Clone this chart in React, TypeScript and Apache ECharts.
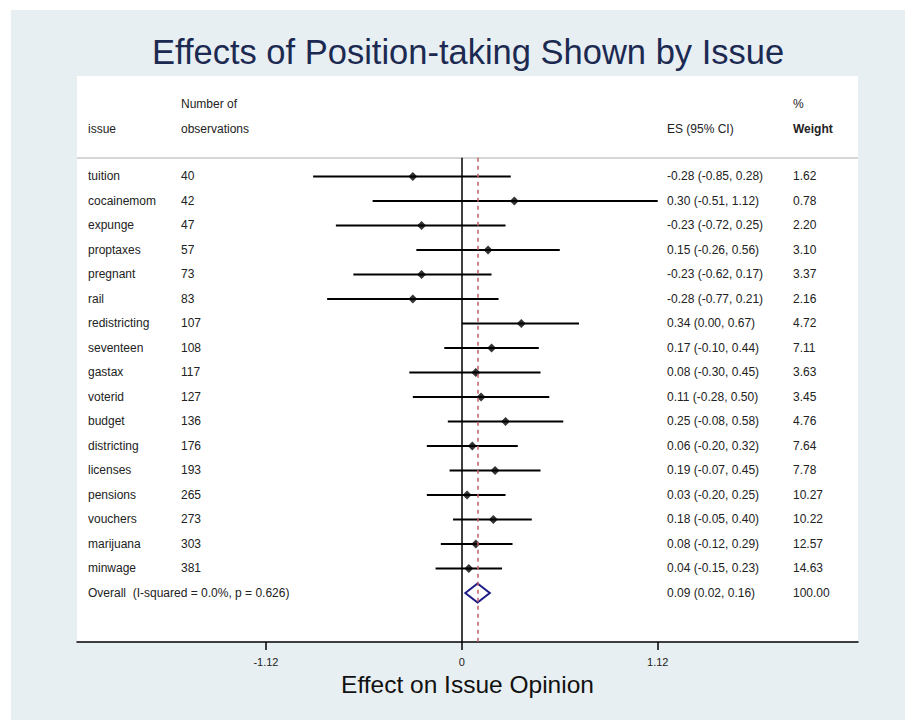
import React, { useEffect, useRef } from "react";
import * as echarts from "echarts";

const issues = ["tuition", "cocainemom", "expunge", "proptaxes", "pregnant", "rail", "redistricting", "seventeen", "gastax", "voterid", "budget", "districting", "licenses", "pensions", "vouchers", "marijuana", "minwage"];
const observations = [40, 42, 47, 57, 73, 83, 107, 108, 117, 127, 136, 176, 193, 265, 273, 303, 381];
const effects = [-0.28, 0.30, -0.23, 0.15, -0.23, -0.28, 0.34, 0.17, 0.08, 0.11, 0.25, 0.06, 0.19, 0.03, 0.18, 0.08, 0.04];
const lower = [-0.85, -0.51, -0.72, -0.26, -0.62, -0.77, 0.00, -0.10, -0.30, -0.28, -0.08, -0.20, -0.07, -0.20, -0.05, -0.12, -0.15];
const upper = [0.28, 1.12, 0.25, 0.56, 0.17, 0.21, 0.67, 0.44, 0.45, 0.50, 0.58, 0.32, 0.45, 0.25, 0.40, 0.29, 0.23];
const weights = [1.62, 0.78, 2.20, 3.10, 3.37, 2.16, 4.72, 7.11, 3.63, 3.45, 4.76, 7.64, 7.78, 10.27, 10.22, 12.57, 14.63];
const overallLabel = "Overall  (I-squared = 0.0%, p = 0.626)";
const overallEffect = 0.09;
const overallLower = 0.02;
const overallUpper = 0.16;
const overallWeight = 100.0;
const tickValues = [-1.12, 0, 1.12];

const FONT = '"Liberation Sans", Arial, Helvetica, sans-serif';
const X_MIN = -2.2;
const X_MAX = 2.265;
const Y_MIN = -4.1;
const Y_MAX = 19;
const HEADER_Y = -0.76;
const OVERALL_ROW = issues.length;

const fmt = (v: number) => v.toFixed(2);

const textRows = issues.map((name, i) => ({
  cols: [name, String(observations[i]), `${fmt(effects[i])} (${fmt(lower[i])}, ${fmt(upper[i])})`, fmt(weights[i])],
  row: i,
}));
textRows.push({
  cols: [overallLabel, "", `${fmt(overallEffect)} (${fmt(overallLower)}, ${fmt(overallUpper)})`, fmt(overallWeight)],
  row: OVERALL_ROW,
});

const colX = [88, 181, 667, 793];

export default function App() {
  const ref = useRef<HTMLDivElement>(null);
  useEffect(() => {
    const chart = echarts.init(ref.current!, null, { renderer: "svg" });
    const textStyleBase = { fill: "#222", fontSize: 12, fontFamily: FONT };
    chart.setOption({
      animation: false,
      backgroundColor: "#ffffff",
      grid: {
        left: 77,
        right: 47,
        top: 76,
        bottom: 79,
        show: true,
        backgroundColor: "#ffffff",
        borderWidth: 0,
      },
      graphic: [
        { type: "rect", z: -10, silent: true, shape: { x: 11, y: 10, width: 894, height: 710 }, style: { fill: "#e8eff2" } },
        { type: "text", z: 10, x: 468, y: 52, style: { text: "Effects of Position-taking Shown by Issue", fill: "#1c2a52", fontSize: 34.5, fontFamily: FONT, align: "center", verticalAlign: "middle" } },
        { type: "text", z: 10, x: colX[1], y: 104, style: { ...textStyleBase, text: "Number of", verticalAlign: "middle" } },
        { type: "text", z: 10, x: colX[0], y: 129, style: { ...textStyleBase, text: "issue", verticalAlign: "middle" } },
        { type: "text", z: 10, x: colX[1], y: 129, style: { ...textStyleBase, text: "observations", verticalAlign: "middle" } },
        { type: "text", z: 10, x: colX[2], y: 129, style: { ...textStyleBase, text: "ES (95% CI)", verticalAlign: "middle" } },
        { type: "text", z: 10, x: colX[3], y: 104, style: { ...textStyleBase, text: "%", verticalAlign: "middle" } },
        { type: "text", z: 10, x: colX[3], y: 129, style: { ...textStyleBase, text: "Weight", fontWeight: "bold", verticalAlign: "middle" } },
      ],
      xAxis: {
        type: "value",
        min: X_MIN,
        max: X_MAX,
        position: "bottom",
        name: "Effect on Issue Opinion",
        nameLocation: "middle",
        nameGap: 28,
        nameTextStyle: { fontSize: 24.5, color: "#111", fontFamily: FONT },
        axisLine: { show: true, onZero: false, lineStyle: { color: "#000", width: 1.5 } },
        axisTick: { show: true, customValues: tickValues, length: 8, lineStyle: { color: "#000", width: 1.5 } },
        axisLabel: {
          show: true,
          customValues: tickValues,
          margin: 14,
          fontSize: 11,
          color: "#222",
          fontFamily: FONT,
          formatter: (v: number) => (v === 0 ? "0" : fmt(v)),
        },
        splitLine: { show: false },
      },
      yAxis: {
        type: "value",
        inverse: true,
        min: Y_MIN,
        max: Y_MAX,
        show: false,
        splitLine: { show: false },
      },
      series: [
        {
          type: "custom",
          name: "ci",
          z: 3,
          data: issues.map((_, i) => [lower[i], upper[i], i]),
          encode: { x: [0, 1], y: 2 },
          renderItem: (params: any, api: any) => {
            const a = api.coord([api.value(0), api.value(2)]);
            const b = api.coord([api.value(1), api.value(2)]);
            return {
              type: "line",
              shape: { x1: a[0], y1: a[1], x2: b[0], y2: b[1] },
              style: { stroke: "#000", lineWidth: 2 },
            };
          },
          markLine: {
            silent: true,
            symbol: "none",
            label: { show: false },
            data: [
              [
                { coord: [X_MIN, HEADER_Y], lineStyle: { color: "#c9c9c9", width: 1.5, type: "solid" } },
                { coord: [X_MAX, HEADER_Y] },
              ],
              [
                { coord: [0, HEADER_Y], lineStyle: { color: "#000", width: 1.5, type: "solid" } },
                { coord: [0, Y_MAX] },
              ],
              [
                { coord: [overallEffect, HEADER_Y], lineStyle: { color: "#c0606c", width: 1.5, type: [4, 4] } },
                { coord: [overallEffect, Y_MAX] },
              ],
            ],
          },
        },
        {
          type: "scatter",
          name: "es",
          z: 4,
          symbol: "diamond",
          symbolSize: 9,
          itemStyle: { color: "#000" },
          data: issues.map((_, i) => [effects[i], i]),
        },
        {
          type: "custom",
          name: "overall",
          z: 4,
          data: [[overallLower, overallEffect, overallUpper, OVERALL_ROW]],
          encode: { x: [0, 2], y: 3 },
          renderItem: (params: any, api: any) => {
            const l = api.coord([api.value(0), api.value(3)]);
            const m = api.coord([api.value(1), api.value(3)]);
            const r = api.coord([api.value(2), api.value(3)]);
            const h = 9.5;
            return {
              type: "polygon",
              shape: { points: [[l[0], l[1]], [m[0], m[1] - h], [r[0], r[1]], [m[0], m[1] + h]] },
              style: { stroke: "#1d1d85", lineWidth: 2, fill: "rgba(255,255,255,0)" },
            };
          },
        },
        {
          type: "custom",
          name: "texts",
          z: 5,
          data: textRows.map((r) => [0, r.row]),
          encode: { x: 0, y: 1 },
          renderItem: (params: any, api: any) => {
            const y = api.coord([0, api.value(1)])[1];
            const row = textRows[params.dataIndex];
            return {
              type: "group",
              children: row.cols.map((t, c) => ({
                type: "text",
                x: colX[c],
                y,
                style: { ...textStyleBase, text: t, verticalAlign: "middle", align: "left" },
              })),
            };
          },
        },
      ],
    });
    return () => chart.dispose();
  }, []);
  return <div ref={ref} style={{ position: "fixed", left: 0, top: 0, width: 905, height: 721 }} />;
}
